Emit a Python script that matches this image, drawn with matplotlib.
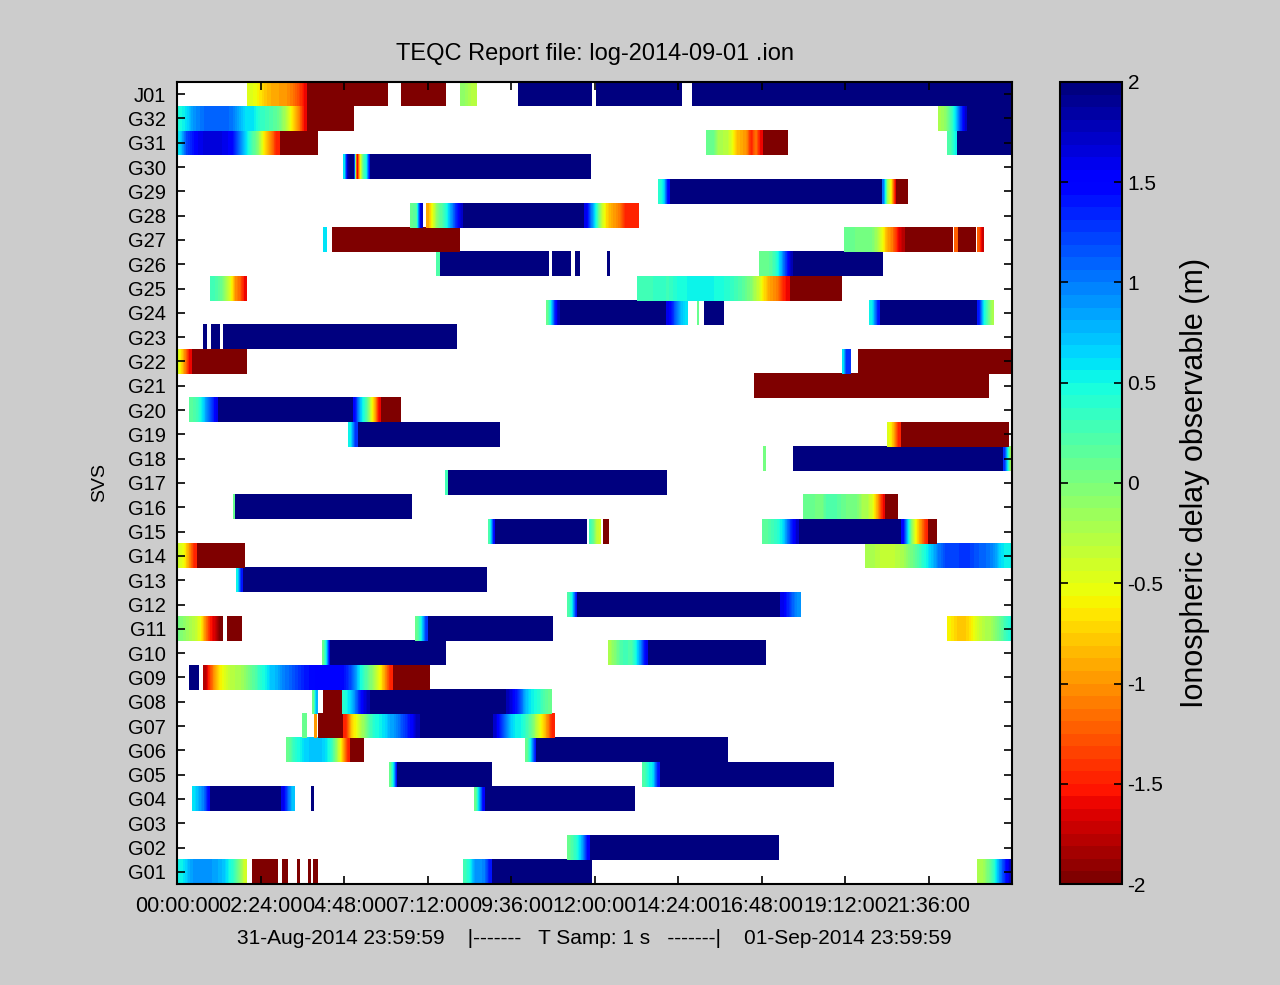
import numpy as np
import matplotlib.pyplot as plt
from matplotlib.colors import Normalize
from matplotlib.cm import ScalarMappable

plt.rcParams['font.family'] = ['Liberation Sans', 'DejaVu Sans']

# satellite rows, bottom to top
svs = ['G%02d' % i for i in range(1, 33)] + ['J01']

# segments per satellite: (start hour, end hour, delay values in metres, spread evenly)
G01 = [(0.0, 2.01, [0.5, 0.6, 0.8, 0.9, 0.9, 0.9, 0.9, 0.85, 0.8, 0.7, 0.5, 0.3, 0.0, -0.4]),
       (2.16, 2.90, [-2]), (3.02, 3.19, [-2]), (3.45, 3.51, [-2]), (3.77, 3.85, [-2]), (3.91, 4.05, [-2]),
       (8.22, 9.05, [0.3, 0.5, 0.9, 0.9, 1.0, 1.4]), (9.05, 11.90, [2]),
       (23.0, 24.0, [-0.25, -0.15, 0.1, 0.4, 0.9, 1.3, 1.7])]
G02 = [(11.21, 11.87, [0.1, 0.3, 0.5, 0.9, 1.5]), (11.87, 17.30, [2])]
G03 = []
G04 = [(0.43, 0.95, [0.6, 0.8, 1.0, 1.5]), (0.95, 2.99, [2]), (2.99, 3.39, [1.6, 1.1, 0.7]),
       (3.85, 3.91, [2]), (8.54, 8.85, [0.1, 0.8, 1.5]), (8.85, 13.14, [2])]
G05 = [(6.09, 6.32, [0.1, 0.6, 1.4]), (6.32, 9.05, [2]),
       (13.37, 13.88, [0.2, 0.5, 0.6, 1.4]), (13.88, 18.88, [2])]
G06 = [(3.13, 4.97, [0.1, 0.35, 0.5, 0.65, 0.7, 0.7, 0.7, 0.6, 0.3, -0.2, -0.8, -1.5]), (4.97, 5.35, [-2]),
       (10.0, 10.32, [0.1, 0.6, 1.4]), (10.32, 15.81, [2])]
G07 = [(3.59, 3.71, [0.1]), (3.94, 4.0, [-1.0]), (4.05, 4.77, [-2]),
       (4.77, 6.98, [-1.5, -0.8, -0.5, -0.2, 0.1, 0.4, 0.5, 0.6, 0.8, 0.9, 1.1, 1.3, 1.5, 1.8]),
       (6.98, 9.08, [2]),
       (9.08, 10.84, [1.7, 1.3, 1.0, 0.7, 0.5, 0.5, 0.3, 0.1, -0.3, -0.6, -1.0, -1.5])]
G08 = [(3.88, 4.05, [0.1, 0.8]), (4.20, 4.74, [-2]), (4.74, 5.55, [0.4, 0.6, 0.9, 1.3, 1.6, 1.8]),
       (5.55, 9.47, [2]), (9.47, 10.78, [1.8, 1.5, 1.3, 0.9, 0.6, 0.5, 0.4, 0.2, 0.1])]
G09 = [(0.34, 0.60, [2]),
       (0.75, 6.21, [-1.8, -1.3, -0.9, -0.6, -0.45, -0.3, -0.25, -0.2, -0.1, 0.1, 0.2, 0.4, 0.5, 0.7,
                     0.75, 0.9, 1.0, 1.1, 1.2, 1.3, 1.4, 1.45, 1.5, 1.5, 1.5, 1.5, 1.5, 1.5, 1.4, 1.2,
                     0.9, 0.5, 0.25, 0.0, -0.3, -0.6, -1.0, -1.5]),
       (6.21, 7.27, [-2])]
G10 = [(4.17, 4.40, [0.1, 0.6, 1.5]), (4.40, 7.73, [2]),
       (12.39, 13.54, [-0.2, 0.0, 0.2, 0.3, 0.2, 0.5, 1.0, 1.6]), (13.54, 16.93, [2])]
G11 = [(0.0, 1.32, [0.0, -0.1, -0.2, -0.3, -0.5, -1.0, -1.5, -1.7, -2.0]), (1.44, 1.87, [-2]),
       (6.84, 7.21, [0.1, 0.5, 1.3]), (7.21, 10.78, [2]),
       (22.13, 24.0, [-0.6, -0.7, -0.8, -0.8, -0.65, -0.5, -0.35, -0.25, -0.2, -0.05, 0.1, 0.3, 0.45])]
G12 = [(11.21, 11.50, [0.2, 0.6, 1.4]), (11.50, 17.33, [2]), (17.33, 17.91, [1.6, 1.2, 0.9])]
G13 = [(1.70, 1.90, [0.5, 1.4]), (1.90, 8.91, [2])]
G14 = [(0.0, 0.57, [-0.4, -0.6, -1.0, -1.5]), (0.57, 1.93, [-2]),
       (19.78, 24.0, [-0.2, -0.25, -0.35, -0.35, -0.3, -0.2, 0.0, 0.2, 0.45, 0.7, 1.0, 1.2, 1.2,
                      1.25, 1.3, 1.2, 1.1, 1.05, 0.9, 0.6, 0.5])]
G15 = [(8.94, 9.14, [0.2, 0.8, 1.5]), (9.14, 11.76, [2]), (11.84, 12.16, [0.3, 0.1, -0.3, -0.4]),
       (12.25, 12.42, [-2]), (16.82, 17.88, [0.15, 0.2, 0.3, 0.4, 0.6, 1.0, 1.4, 1.7]),
       (17.88, 20.81, [2]), (20.81, 21.59, [1.5, 0.6, -0.2, -0.7, -1.1, -1.5]), (21.59, 21.82, [-2])]
G16 = [(1.61, 1.67, [0.1]), (1.67, 6.75, [2]),
       (17.99, 20.35, [0.1, 0.1, 0.05, 0.0, 0.2, 0.25, 0.2, 0.1, 0.05, 0.05, 0.0, -0.2, -0.25, -0.5,
                       -1.0, -1.6]),
       (20.35, 20.72, [-2])]
G17 = [(7.70, 7.79, [0.3]), (7.79, 14.08, [2])]
G18 = [(16.84, 16.90, [0.0]), (17.71, 23.74, [2]), (23.74, 24.0, [1.3, 0.5, -0.4])]
G19 = [(4.92, 5.20, [0.5, 1.3]), (5.20, 9.26, [2]), (20.41, 20.81, [-0.5, -0.9, -1.5]), (20.81, 23.89, [-2])]
G20 = [(0.34, 1.18, [0.15, 0.25, 0.5, 0.9, 1.2, 1.6]), (1.18, 5.06, [2]),
       (5.06, 5.86, [1.5, 0.9, 0.5, 0.2, -0.4, -0.9, -1.6]), (5.86, 6.41, [-2])]
G21 = [(16.58, 23.31, [-2])]
G22 = [(0.0, 0.43, [-0.5, -1.0, -1.6]), (0.43, 2.01, [-2]), (19.11, 19.34, [0.6, 1.3, 1.3]),
       (19.57, 24.0, [-2])]
G23 = [(0.75, 0.86, [2]), (0.98, 1.21, [2]), (1.32, 8.02, [2])]
G24 = [(10.61, 11.01, [0.1, 0.6, 1.3, 1.8]), (11.01, 14.05, [2]), (14.05, 14.66, [1.6, 1.2, 0.8, 0.6]),
       (14.95, 15.00, [0.1]), (15.15, 15.72, [2]), (19.89, 20.21, [0.5, 1.4]), (20.21, 22.98, [2]),
       (22.98, 23.46, [1.4, 0.6, 0.2, -0.2])]
G25 = [(0.95, 2.01, [0.3, 0.2, 0.1, -0.2, -0.5, -1.0, -1.2, -1.6]),
       (13.22, 17.62, [0.3, 0.3, 0.35, 0.3, 0.45, 0.5, 0.5, 0.5, 0.5, 0.45, 0.35, 0.2, 0.0, -0.4, -0.9,
                       -1.1, -1.6]),
       (17.62, 19.09, [-2])]
G26 = [(7.44, 7.56, [0.2]), (7.56, 10.69, [2]), (10.78, 11.30, [2]), (11.44, 11.56, [2]), (12.36, 12.42, [2]),
       (16.73, 17.71, [0.1, 0.1, 0.15, 0.4, 0.8, 1.3, 1.8]), (17.71, 20.29, [2])]
G27 = [(4.20, 4.31, [0.6]), (4.46, 8.13, [-2]),
       (19.17, 20.92, [0.1, 0.1, 0.05, 0.05, 0.0, 0.0, -0.2, -0.5, -0.9, -1.1, -1.5, -1.8]),
       (20.92, 22.28, [-2]), (22.33, 22.45, [-1.2]), (22.45, 22.94, [-2]), (23.0, 23.20, [-1.2, -1.7])]
G28 = [(6.70, 7.07, [0.1, 0.2, 1.7]), (7.16, 8.22, [-0.9, -0.5, 0.0, 0.2, 0.5, 0.9, 1.3, 1.7]),
       (8.22, 11.70, [2]),
       (11.70, 13.28, [1.6, 1.0, 0.4, -0.3, -0.7, -0.9, -1.0, -1.2, -1.5, -1.5, -1.5])]
G29 = [(13.83, 14.17, [0.4, 0.6, 1.5]), (14.17, 20.26, [2]), (20.26, 20.67, [1.0, -0.2, -0.6, -1.6]),
       (20.67, 21.01, [-2])]
G30 = [(4.77, 5.55, [0.6, 1.8, 2, 2, -1.8, -0.6, 0.2, 0.5, 1.4]), (5.55, 11.90, [2])]
G31 = [(0.0, 2.96, [0.6, 1.2, 1.4, 1.6, 1.65, 1.65, 1.65, 1.6, 1.5, 1.1, 0.7, 0.3, 0.0, -0.6, -1.0, -1.5]),
       (2.96, 4.05, [-2]),
       (15.21, 16.84, [0.1, 0.1, -0.2, -0.25, -0.3, -0.5, -0.8, -0.9, -1.0, -1.5, -1.1, -1.6]),
       (16.84, 17.53, [-2]), (22.13, 22.42, [0.2, 0.5]), (22.42, 24.0, [2])]
G32 = [(0.0, 3.74, [0.45, 0.6, 0.9, 1.0, 1.1, 1.1, 1.1, 1.1, 1.0, 0.8, 0.6, 0.6, 0.4, 0.3, 0.2, 0.1,
                    -0.2, -0.6, -1.0, -1.6]),
       (3.74, 5.09, [-2]), (21.87, 22.71, [-0.2, -0.1, 0.2, 0.6, 1.2, 1.7]), (22.71, 24.0, [2])]
J01 = [(2.01, 3.74, [-0.45, -0.55, -0.7, -0.85, -0.9, -0.95, -1.0, -1.1, -1.3, -1.6]), (3.74, 6.06, [-2]),
       (6.44, 7.73, [-2]), (8.13, 8.59, [-0.1, -0.3]), (9.80, 11.90, [2]), (12.04, 14.49, [2]),
       (14.80, 24.0, [2])]

rows = [G01, G02, G03, G04, G05, G06, G07, G08, G09, G10, G11, G12, G13, G14, G15, G16,
        G17, G18, G19, G20, G21, G22, G23, G24, G25, G26, G27, G28, G29, G30, G31, G32, J01]

xticks = [0, 2.4, 4.8, 7.2, 9.6, 12.0, 14.4, 16.8, 19.2, 21.6]
xticklabels = ['00:00:00', '02:24:00', '04:48:00', '07:12:00', '09:36:00',
               '12:00:00', '14:24:00', '16:48:00', '19:12:00', '21:36:00']
cticks = [-2, -1.5, -1, -0.5, 0, 0.5, 1, 1.5, 2]
cticklabels = ['-2', '-1.5', '-1', '-0.5', '0', '0.5', '1', '1.5', '2']

cmap = plt.get_cmap('jet_r', 64)
norm = Normalize(vmin=-2, vmax=2)

fig = plt.figure(figsize=(12.8, 9.85), dpi=100, facecolor='#cccccc')
ax = fig.add_axes([177/1280, 101/985, 835/1280, 802/985])
ax.set_facecolor('white')

for r, segs in enumerate(rows, start=1):
    for t0, t1, vals in segs:
        ax.imshow(np.array([vals]), extent=(t0, t1, r - 0.5, r + 0.5), aspect='auto',
                  cmap=cmap, norm=norm, interpolation='bilinear', interpolation_stage='data')

ax.set_xlim(0, 24)
ax.set_ylim(0.5, 33.5)
ax.set_xticks(xticks)
ax.set_xticklabels(xticklabels, fontsize=15.5)
ax.set_yticks(range(1, len(svs) + 1))
ax.set_yticklabels(svs, fontsize=14.5)
ax.tick_params(axis='x', direction='in', top=True, length=6, width=1.2, pad=9)
ax.tick_params(axis='y', direction='in', right=True, length=6, width=1.2, pad=8)
for s in ax.spines.values():
    s.set_linewidth(1.5)
ax.set_title('TEQC Report file: log-2014-09-01 .ion', fontsize=17, pad=16)
ax.set_ylabel('SVS', fontsize=14, labelpad=14)
ax.set_xlabel('31-Aug-2014 23:59:59    |-------   T Samp: 1 s   -------|    01-Sep-2014 23:59:59',
              fontsize=15, labelpad=8)

cax = fig.add_axes([1060/1280, 101/985, 62/1280, 802/985])
sm = ScalarMappable(norm=norm, cmap=cmap)
cb = fig.colorbar(sm, cax=cax, ticks=cticks)
cb.ax.set_yticklabels(cticklabels, fontsize=15)
cb.ax.tick_params(direction='in', left=True, right=True, length=6, width=1.2, pad=4)
cb.outline.set_linewidth(1.5)
cb.set_label('Ionospheric delay observable (m)', fontsize=22, labelpad=12)

fig.savefig('out.png', dpi=100, facecolor=fig.get_facecolor())
